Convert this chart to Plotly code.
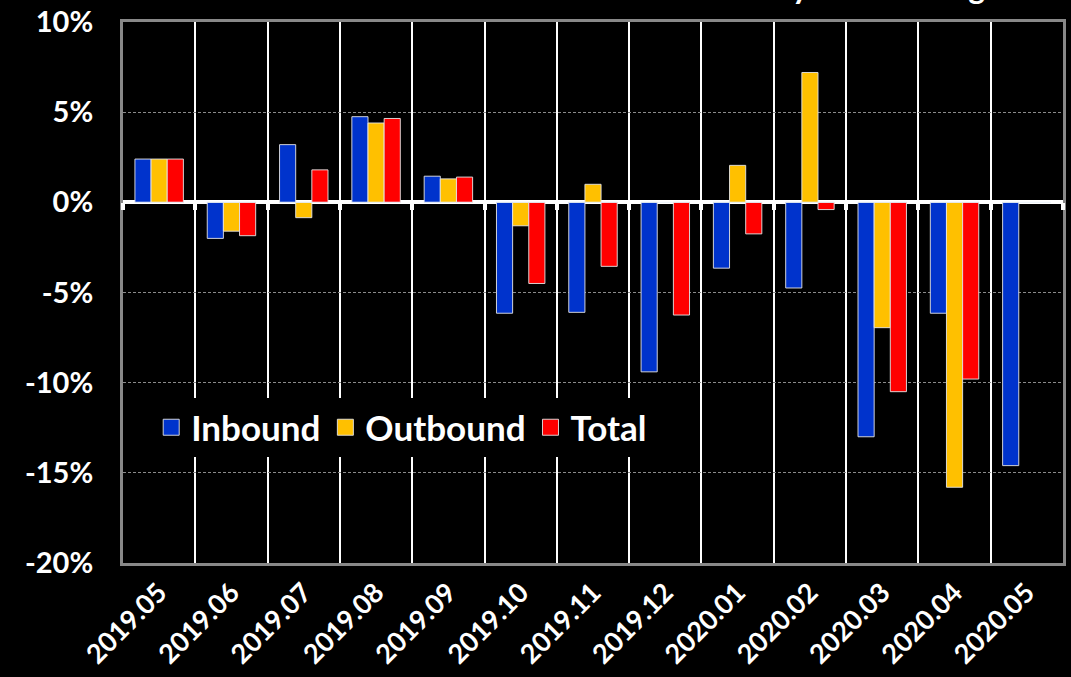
import plotly.graph_objects as go

categories = ["2019.05", "2019.06", "2019.07", "2019.08", "2019.09", "2019.10", "2019.11",
              "2019.12", "2020.01", "2020.02", "2020.03", "2020.04", "2020.05"]
inbound = [2.4, -2.0, 3.2, 4.75, 1.45, -6.15, -6.1, -9.4, -3.65, -4.75, -13.0, -6.15, -14.6]
outbound = [2.4, -1.6, -0.85, 4.4, 1.3, -1.3, 1.0, None, 2.05, 7.2, -6.95, -15.8, None]
total = [2.4, -1.85, 1.8, 4.65, 1.4, -4.5, -3.55, -6.25, -1.75, -0.4, -10.5, -9.8, None]
y_ticks = [-20, -15, -10, -5, 0, 5, 10]
y_ticklabels = ["-20%", "-15%", "-10%", "-5%", "0%", "5%", "10%"]

series = [("Inbound", inbound, "#0033CC"), ("Outbound", outbound, "#FFC000"), ("Total", total, "#FF0000")]

FONT = "Lato"

fig = go.Figure()
for name, vals, col in series:
    fig.add_trace(go.Bar(
        x=categories, y=vals, name=name, showlegend=False,
        marker=dict(color=col, line=dict(color="rgba(230,230,230,0.9)", width=1)),
    ))
for name, vals, col in series:
    fig.add_trace(go.Scatter(
        x=[None], y=[None], mode="markers", name=name,
        marker=dict(symbol="square", size=20, color=col, line=dict(color="rgba(230,230,230,0.9)", width=1)),
    ))

# invisible overlay axis used only to draw the small tick marks on the zero line
fig.add_trace(go.Bar(x=categories, y=[0] * len(categories), xaxis="x2", showlegend=False,
                     hoverinfo="skip", marker=dict(color="rgba(0,0,0,0)")))

fig.update_layout(
    width=1071, height=677,
    paper_bgcolor="black", plot_bgcolor="black",
    margin=dict(l=123, r=8, t=22, b=114),
    barmode="group", bargap=0.33, bargroupgap=0,
    font=dict(family=FONT, color="white"),
    showlegend=True,
    legend=dict(orientation="h", x=0.03, y=0.305, xanchor="left", yanchor="top",
                bgcolor="black", font=dict(family=FONT, size=35, color="white", weight="bold"),
                itemwidth=30, tracegroupgap=0),
    xaxis2=dict(type="category", overlaying="x", anchor="free", position=2 / 3, side="bottom",
                categoryarray=categories, categoryorder="array", range=[-0.5, len(categories) - 0.5],
                tickson="boundaries", ticks="outside", ticklen=7, tickwidth=4, tickcolor="white",
                showticklabels=False, showgrid=False, showline=False, zeroline=False, automargin=False),
    xaxis=dict(type="category", tickson="boundaries", showgrid=True, gridcolor="white",
               gridwidth=2, ticks="", tickangle=-45, automargin=False,
               tickfont=dict(family=FONT, size=27, color="white", weight="bold"),
               showline=True, linecolor="#888888", linewidth=3, mirror=True,
               range=[-0.5, len(categories) - 0.5]),
)
fig.update_yaxes(
    range=[-20, 10], tickvals=y_ticks, ticktext=y_ticklabels, showgrid=True, gridcolor="#8a8a8a",
    gridwidth=1, griddash="3px,2px", automargin=False,
    zeroline=True, zerolinecolor="white", zerolinewidth=4,
    tickfont=dict(family=FONT, size=29, color="white", weight="bold"),
    showline=True, linecolor="#888888", linewidth=3, mirror=True, ticks="", ticklabelstandoff=21,
)

fig.add_annotation(
    text="Year-over-year % Change", xref="paper", yref="paper",
    x=(1004 - 123) / 940, y=1, xanchor="right", yanchor="bottom", yshift=14,
    showarrow=False, font=dict(family=FONT, size=32, color="white", weight="bold"),
)

fig.write_html("out.html", config={"displayModeBar": False},
               post_script="document.body.style.margin='0';document.body.style.background='black';")
